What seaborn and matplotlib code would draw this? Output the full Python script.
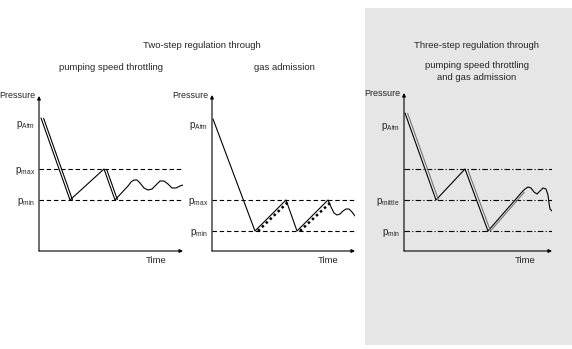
import matplotlib
matplotlib.use("Agg")
import matplotlib.pyplot as plt
import matplotlib.transforms as mtransforms
from matplotlib.patches import Rectangle
import seaborn as sns

# ---------------- data (schematic units: time / pressure) ----------------
# Panel 1: two-step, pumping speed throttling
t1 = [0.2, 3.1, 6.5, 7.6, 8.9, 9.2, 9.5, 9.8, 10.1, 10.5, 10.9, 11.3, 11.7, 12.1, 12.5, 12.9, 13.3, 13.7, 14.1, 14.4]
p1 = [13.3, 5.1, 8.2, 5.1, 6.5, 6.9, 7.1, 7.1, 6.8, 6.3, 6.1, 6.2, 6.6, 7.0, 7.0, 6.7, 6.3, 6.3, 6.5, 6.6]
rails1 = [(0, 1), (2, 3)]
levels1 = [12.8, 8.2, 5.1]
labels1 = ["Atm", "max", "min"]
dashed1 = [8.2, 5.1]

# Panel 2: two-step, gas admission
t2 = [0.1, 4.3, 7.4, 8.5, 11.6, 11.9, 12.2, 12.5, 12.8, 13.1, 13.4, 13.7, 14.0, 14.3]
p2 = [13.2, 2.0, 5.1, 2.0, 5.1, 4.4, 3.8, 3.6, 3.7, 4.0, 4.2, 4.2, 3.9, 3.5]
gas_t = [[4.6, 7.6], [8.8, 11.9]]
gas_p = [[2.0, 4.9], [2.0, 4.9]]
levels2 = [12.7, 5.1, 2.0]
labels2 = ["Atm", "max", "min"]
dashed2 = [5.1, 2.0]

# Panel 3: three-step, pumping speed throttling and gas admission
t3 = [0.1, 3.2, 6.1, 8.4, 11.8, 12.1, 12.4, 12.7, 13.0, 13.3, 13.6, 13.9, 14.2, 14.4, 14.5, 14.6, 14.8]
p3 = [13.8, 5.1, 8.2, 2.0, 5.9, 6.2, 6.4, 6.3, 5.9, 5.7, 6.0, 6.3, 6.2, 5.6, 4.8, 4.2, 4.0]
rails3 = [(0, 1), (2, 3), (3, 4)]
levels3 = [12.6, 5.1, 2.0]
labels3 = ["Atm", "mittle", "min"]
dashdot3 = [8.2, 5.1, 2.0]

# ---------------- style ----------------
sns.set_style("white")
FONTS = ["Liberation Sans Narrow", "Liberation Sans", "DejaVu Sans"]
plt.rcParams["font.family"] = FONTS
plt.rcParams["mathtext.fontset"] = "custom"
plt.rcParams["mathtext.rm"] = "Liberation Sans"
plt.rcParams["font.size"] = 6.5

W, H = 572, 349
fig = plt.figure(figsize=(W / 100, H / 100), dpi=100)
fig.patch.set_facecolor("white")

# gray background for the three-step panel
fig.patches.append(Rectangle((365 / W, 1 - 345 / H), (572 - 365) / W, (345 - 8) / H,
                             transform=fig.transFigure, facecolor="#e6e6e6",
                             edgecolor="none", zorder=-10))


def px_axes(x0, x1, ytop, ybot):
    ax = fig.add_axes([x0 / W, 1 - ybot / H, (x1 - x0) / W, (ybot - ytop) / H])
    ax.set_zorder(5)
    return ax


def setup(ax, xmax, ymax, levels, labels):
    ax.set_facecolor("none")
    ax.patch.set_alpha(0)
    ax.set_xlim(0, xmax)
    ax.set_ylim(0, ymax)
    for s in ax.spines.values():
        s.set_visible(False)
    ax.set_xticks([])
    ax.set_yticks(levels)
    ax.set_yticklabels([r"p$_{\mathrm{%s}}$" % l for l in labels], fontsize=7)
    ax.tick_params(axis="y", length=0, pad=3)
    ax.set_xlabel("")
    ax.set_ylabel("")
    arrow = dict(arrowstyle="-|>", lw=0.8, color="black", mutation_scale=5,
                 shrinkA=0, shrinkB=0)
    ax.annotate("", xy=(0, 1.0), xytext=(0, 0), xycoords="axes fraction",
                textcoords="axes fraction", arrowprops=arrow)
    ax.annotate("", xy=(1.0, 0), xytext=(0, 0), xycoords="axes fraction",
                textcoords="axes fraction", arrowprops=arrow)
    ax.annotate("Pressure", xy=(0, 1), xycoords="axes fraction", xytext=(-2.5, 0),
                textcoords="offset points", ha="right", va="center", fontsize=6.5)
    ax.annotate("Time", xy=(1, 0), xycoords="axes fraction", xytext=(-12, -7),
                textcoords="offset points", ha="right", va="center", fontsize=6.8)


def rails(ax, t, p, segs, color, dx=1.8):
    tr = mtransforms.offset_copy(ax.transData, fig=fig, x=dx, y=0, units="points")
    for i, j in segs:
        ax.plot(t[i:j + 1], p[i:j + 1], color=color, lw=0.8, transform=tr,
                solid_capstyle="butt")


line_kw = dict(sort=False, estimator=None, color="black", linewidth=0.8)

# Panel 1
ax1 = px_axes(39, 183, 96, 251)
setup(ax1, 14.4, 15.5, levels1, labels1)
for lv in dashed1:
    ax1.axhline(lv, color="black", lw=0.8, ls=(0, (4, 2.5)))
sns.lineplot(x=t1, y=p1, ax=ax1, **line_kw)
rails(ax1, t1, p1, rails1, "black")

# Panel 2
ax2 = px_axes(212, 355, 95, 251)
setup(ax2, 14.3, 15.6, levels2, labels2)
for lv in dashed2:
    ax2.axhline(lv, color="black", lw=0.8, ls=(0, (4, 2.5)))
sns.lineplot(x=t2, y=p2, ax=ax2, **line_kw)
for gt, gp in zip(gas_t, gas_p):
    ax2.plot(gt, gp, color="black", lw=1.8, ls=(0, (1, 1.2)))

# Panel 3
ax3 = px_axes(404, 552, 93, 251)
setup(ax3, 14.8, 15.8, levels3, labels3)
for lv in dashdot3:
    ax3.axhline(lv, color="black", lw=0.8, ls=(0, (5, 2, 1, 2)))
sns.lineplot(x=t3, y=p3, ax=ax3, **line_kw)
rails(ax3, t3, p3, rails3, "#777777")

# Titles
def ftext(x, y, s):
    fig.text(x / W, 1 - y / H, s, ha="center", va="center", fontsize=6.8, zorder=6)

ftext(202, 45, "Two-step regulation through")
ftext(111, 68, "pumping speed throttling")
ftext(284, 68, "gas admission")
ftext(477, 45, "Three-step regulation through")
ftext(477, 66, "pumping speed throttling")
ftext(477, 78, "and gas admission")

fig.savefig("out.png", dpi=100)
